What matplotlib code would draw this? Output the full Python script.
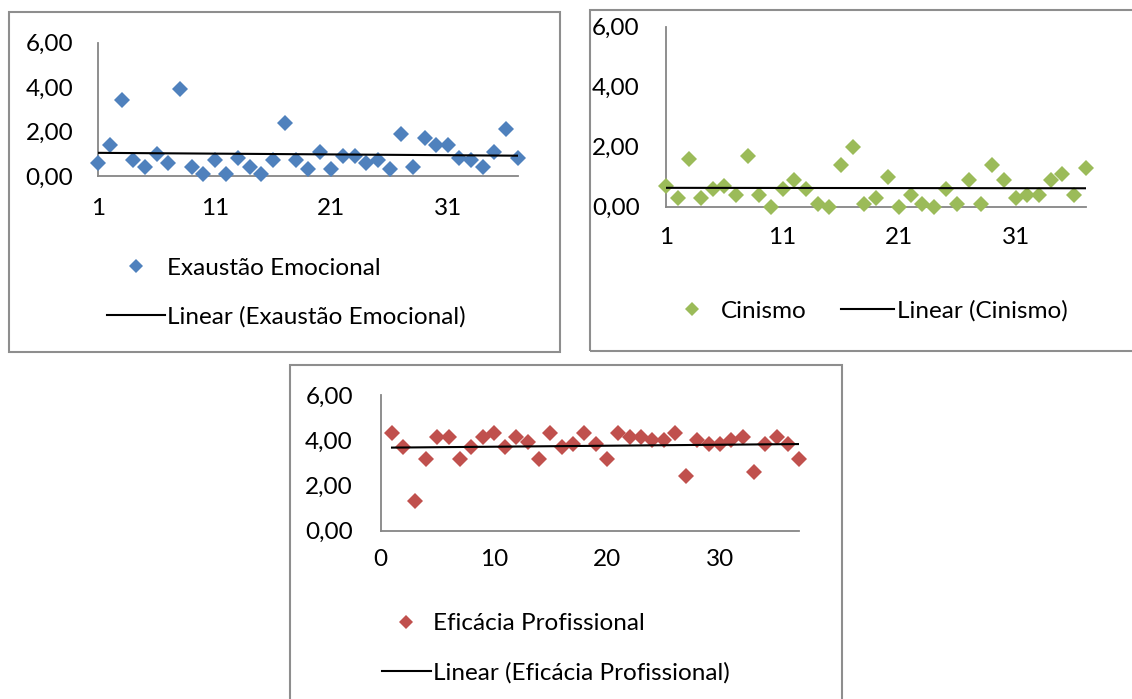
import numpy as np
import matplotlib
matplotlib.use("Agg")
import matplotlib.pyplot as plt
from matplotlib.patches import Rectangle
from matplotlib.ticker import FuncFormatter

# ---- data ----
x_vals = list(range(1, 38))
exaustao = [0.6, 1.4, 3.4, 0.7, 0.4, 1.0, 0.6, 3.9, 0.4, 0.1,
            0.7, 0.1, 0.8, 0.4, 0.1, 0.7, 2.4, 0.7, 0.3, 1.1,
            0.3, 0.9, 0.9, 0.6, 0.7, 0.3, 1.9, 0.4, 1.7, 1.4,
            1.4, 0.8, 0.7, 0.4, 1.1, 2.1, 0.8]
cinismo = [0.7, 0.3, 1.6, 0.3, 0.6, 0.7, 0.4, 1.7, 0.4, 0.0,
           0.6, 0.9, 0.6, 0.1, 0.0, 1.4, 2.0, 0.1, 0.3, 1.0,
           0.0, 0.4, 0.1, 0.0, 0.6, 0.1, 0.9, 0.1, 1.4, 0.9,
           0.3, 0.4, 0.4, 0.9, 1.1, 0.4, 1.3]
eficacia = [4.3, 3.7, 1.3, 3.15, 4.15, 4.15, 3.15, 3.7, 4.15, 4.3,
            3.7, 4.15, 3.9, 3.15, 4.3, 3.7, 3.85, 4.3, 3.85, 3.15,
            4.3, 4.15, 4.15, 4.0, 4.0, 4.3, 2.4, 4.0, 3.85, 3.85,
            4.0, 4.15, 2.6, 3.85, 4.15, 3.85, 3.15]
names = ["Exaustão Emocional", "Cinismo", "Eficácia Profissional"]
colors = ["#4F81BD", "#9BBB59", "#C0504D"]
xticks_12 = [1, 11, 21, 31]
xticks_3 = [0, 10, 20, 30]
yticks = [0, 2, 4, 6]

W, H = 1132, 699
plt.rcParams['font.family'] = ['Lato', 'DejaVu Sans']
fig = plt.figure(figsize=(W / 100, H / 100), dpi=100)

FS = 17.5
AXC = "#868686"
BORDER = "#8E8E8E"


def px_axes(x0, y_top, x1, y_bot):
    return fig.add_axes([x0 / W, 1 - y_bot / H, (x1 - x0) / W, (y_bot - y_top) / H])


def frame(x0, y0, x1, y1):
    r = Rectangle((x0 / W, 1 - y1 / H), (x1 - x0) / W, (y1 - y0) / H,
                  transform=fig.transFigure, fill=False, edgecolor=BORDER,
                  linewidth=1.5, zorder=0)
    fig.add_artist(r)


fmt = FuncFormatter(lambda v, p: f"{v:.2f}".replace(".", ","))


def setup(ax, xlim, xticks, xpad, ypad):
    ax.set_xlim(*xlim)
    ax.set_ylim(0, 6)
    ax.set_xticks(xticks)
    ax.set_yticks(yticks)
    ax.yaxis.set_major_formatter(fmt)
    for s in ["top", "right"]:
        ax.spines[s].set_visible(False)
    for s in ["left", "bottom"]:
        ax.spines[s].set_color(AXC)
        ax.spines[s].set_linewidth(1.3)
    ax.tick_params(axis="x", length=0, pad=xpad, labelsize=FS)
    ax.tick_params(axis="y", length=0, pad=ypad, labelsize=FS)
    ax.patch.set_alpha(0)


def plot_series(ax, y, color, name):
    x = np.array(x_vals)
    yv = np.array(y)
    sc, = ax.plot(x, yv, linestyle="none", marker="D", markersize=7.8,
                  color=color, markeredgewidth=0, clip_on=False, zorder=3,
                  label=name)
    k, b = np.polyfit(x, yv, 1)
    tl, = ax.plot([x[0], x[-1]], [k * x[0] + b, k * x[-1] + b], color="black",
                  linewidth=1.5, zorder=4, label=f"Linear ({name})")
    return sc, tl


# frames
frame(9, 12, 560, 352)
frame(590, 10, 1140, 351)
frame(290, 365, 842, 710)

# chart 1
ax1 = px_axes(98.3, 42.7, 517.7, 176)
setup(ax1, (1, 37), xticks_12, 15.5, 18)
h1 = plot_series(ax1, exaustao, colors[0], names[0])
fig.legend(handles=list(h1), loc="center left", bbox_to_anchor=(107 / W, 1 - 292.5 / H),
           frameon=False, fontsize=FS, borderpad=0, borderaxespad=0,
           handlelength=2.4, handletextpad=0.05, labelspacing=1.1, markerscale=0.85)

# chart 2
ax2 = px_axes(666, 26.7, 1085.7, 206.7)
setup(ax2, (1, 37), xticks_12, 14.5, 19)
h2 = plot_series(ax2, cinismo, colors[1], names[1])
fig.legend(handles=list(h2), loc="center left", bbox_to_anchor=(665 / W, 1 - 311 / H),
           frameon=False, fontsize=FS, borderpad=0, borderaxespad=0, ncol=2,
           handlelength=2.2, handletextpad=0.1, columnspacing=1.4, markerscale=0.85)

# chart 3
ax3 = px_axes(380.7, 395, 799.3, 530.7)
setup(ax3, (0, 37), xticks_3, 13, 20)
h3 = plot_series(ax3, eficacia, colors[2], names[2])
fig.legend(handles=list(h3), loc="center left", bbox_to_anchor=(382 / W, 1 - 648.5 / H),
           frameon=False, fontsize=FS, borderpad=0, borderaxespad=0,
           handlelength=2.0, handletextpad=0.1, labelspacing=1.15, markerscale=0.85)

fig.savefig("out.png", dpi=100)
